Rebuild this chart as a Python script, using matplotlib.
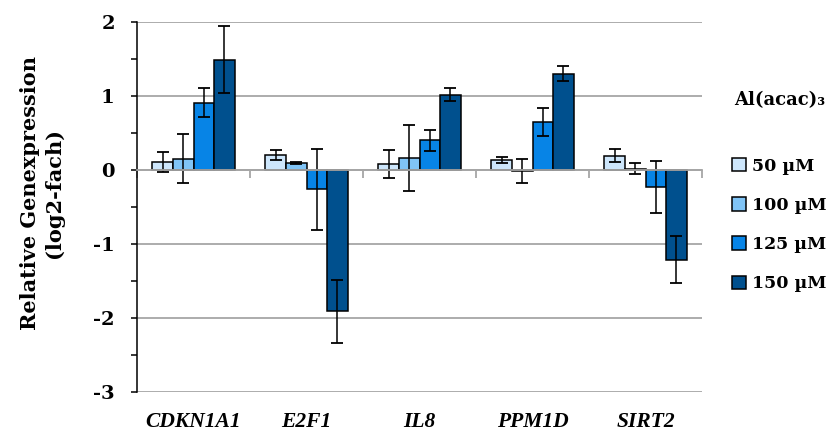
import matplotlib
matplotlib.use("Agg")
import matplotlib.pyplot as plt
from matplotlib.patches import Patch
from matplotlib.ticker import MultipleLocator
import numpy as np

genes = ["CDKN1A1", "E2F1", "IL8", "PPM1D", "SIRT2"]
doses = ["50 µM", "100 µM", "125 µM", "150 µM"]

means_50 = [0.11, 0.20, 0.08, 0.135, 0.195]
means_100 = [0.15, 0.095, 0.16, -0.01, 0.02]
means_125 = [0.91, -0.26, 0.40, 0.65, -0.23]
means_150 = [1.49, -1.91, 1.02, 1.30, -1.21]

err_50 = [0.135, 0.065, 0.19, 0.04, 0.09]
err_100 = [0.33, 0.015, 0.45, 0.16, 0.07]
err_125 = [0.20, 0.55, 0.14, 0.19, 0.35]
err_150 = [0.45, 0.43, 0.085, 0.10, 0.32]

colors = ["#cde6fb", "#80c4f6", "#0784e6", "#00508e"]

font = "DejaVu Serif"
plt.rcParams["font.family"] = [font]
plt.rcParams["font.weight"] = "bold"
plt.rcParams["axes.unicode_minus"] = False

fig = plt.figure(figsize=(8.32, 4.32), dpi=100)
ax = fig.add_axes([0.1647, 0.0926, 0.6791, 0.8565])

x = np.arange(len(genes))
width = 0.182
all_means = [means_50, means_100, means_125, means_150]
all_errs = [err_50, err_100, err_125, err_150]
for i, (m, e, c) in enumerate(zip(all_means, all_errs, colors)):
    offs = (i - 1.5) * width
    ax.bar(x + offs, m, width, color=c, edgecolor="black", linewidth=1.1,
           zorder=3)
    ax.errorbar(x + offs, m, yerr=e, fmt="none", ecolor="black",
                elinewidth=1.1, capsize=4.5, capthick=1.3, zorder=4)

ax.set_xlim(-0.5, 4.5)
ax.set_ylim(-3, 2)
ax.yaxis.set_major_locator(MultipleLocator(1))
ax.yaxis.set_minor_locator(MultipleLocator(0.5))
ax.yaxis.grid(True, which="major", color="#a6a6a6", linewidth=1.3, zorder=0)
ax.tick_params(axis="y", which="both", direction="out", length=4,
               width=1.1, color="black", labelsize=14, pad=12)
for lbl in ax.get_yticklabels():
    lbl.set_fontweight("bold")

for s in ["top", "right"]:
    ax.spines[s].set_visible(False)
ax.spines["left"].set_linewidth(1.1)
ax.spines["bottom"].set_position(("data", 0))
ax.spines["bottom"].set_color("#a6a6a6")
ax.spines["bottom"].set_linewidth(1.3)
ax.spines["bottom"].set_zorder(5)
ax.set_xticks(np.arange(-0.5, 5.0, 1.0))
ax.set_xticklabels([])
ax.tick_params(axis="x", direction="out", length=6, width=1.3,
               color="#a6a6a6")

for xi, g in zip(x, genes):
    ax.text(xi, -0.081, g, transform=ax.get_xaxis_transform(),
            ha="center", va="center", fontsize=15.5, fontweight="bold",
            fontstyle="italic", family="Liberation Serif")

fig.text(0.050, 0.553, "Relative Genexpression\n(log2-fach)", rotation=90,
         ha="center", va="center", fontsize=15, fontweight="bold",
         linespacing=1.25)

fig.text(0.882, 0.768, "Al(acac)₃", ha="left", va="center",
         fontsize=13, fontweight="bold")
handles = [Patch(facecolor=c, edgecolor="black", linewidth=1.1) for c in colors]
fig.legend(handles, doses, loc="upper left", bbox_to_anchor=(0.872, 0.651),
           frameon=False, handlelength=0.8, handleheight=0.8,
           handletextpad=0.3, labelspacing=1.28, borderaxespad=0,
           prop={"family": font, "weight": "bold", "size": 12.5})

fig.savefig("out.png", dpi=100)
